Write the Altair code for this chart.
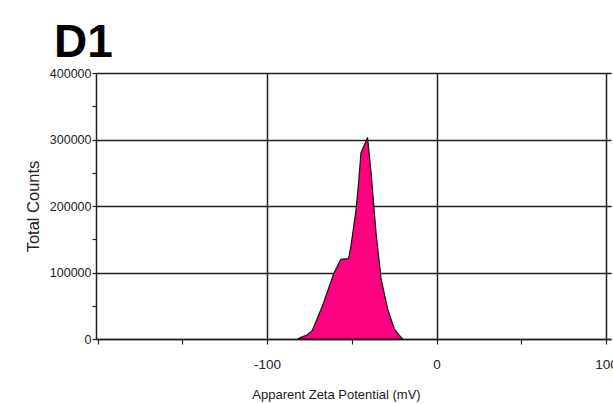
import altair as alt
import pandas as pd

# Zeta potential distribution (mV) and total counts
zeta_mv = [-82, -80, -76.5, -73.4, -67.3, -60.4, -56.4, -51.9, -50.5, -47.5,
           -46.0, -44.6, -42.5, -40.7, -38.6, -35.7, -32.7, -28.8, -24.9,
           -20.9, -20]
total_counts = [0, 2500, 6000, 12400, 49900, 99900, 119800, 120900, 139800,
                194700, 234700, 279700, 292000, 303000, 249700, 159800, 89900,
                44900, 15000, 2500, 0]

df = pd.DataFrame({"zeta": zeta_mv, "counts": total_counts})

x_ticks = [-200, -150, -100, -50, 0, 50, 100]
y_ticks = [0, 50000, 100000, 150000, 200000, 250000, 300000, 350000, 400000]

major_x = "datum.value % 100 == 0 && datum.value > -200"
major_y = "datum.value % 100000 == 0"

chart = alt.Chart(df).mark_area(
    color="#FF0080", stroke="#111111", strokeWidth=1.2, interpolate="linear"
).encode(
    x=alt.X(
        "zeta:Q",
        scale=alt.Scale(domain=[-201, 103], nice=False, zero=False),
        axis=alt.Axis(
            values=x_ticks,
            title="Apparent Zeta Potential (mV)",
            titleFont="Liberation Sans", titleFontSize=13, titleFontWeight="normal",
            titleColor="#222222", titlePadding=18, titleX=240, titleAlign="center",
            labelFont="Liberation Sans", labelFontSize=13.5, labelColor="#222222",
            labelPadding=13,
            labelExpr="(datum.value % 100 == 0 && datum.value > -200) ? '' + datum.value : ''",
            grid=True, gridColor="#222222", gridWidth=1.5,
            gridOpacity={"condition": {"test": major_x, "value": 1}, "value": 0},
            domainColor="#222222", domainWidth=1.5,
            tickColor="#222222", tickSize=5, tickWidth=1.2,
        ),
    ),
    y=alt.Y(
        "counts:Q",
        scale=alt.Scale(domain=[0, 400000], nice=False),
        axis=alt.Axis(
            values=y_ticks,
            title="Total Counts",
            titleFont="Liberation Sans", titleFontSize=16.5, titleFontWeight="normal",
            titleColor="#222222", titlePadding=8,
            labelFont="Liberation Sans", labelFontSize=12.5, labelColor="#222222",
            labelPadding=1,
            labelExpr="datum.value % 100000 == 0 ? '' + datum.value : ''",
            grid=True, gridColor="#222222", gridWidth=1.5,
            gridOpacity={"condition": {"test": major_y, "value": 1}, "value": 0},
            domainColor="#222222", domainWidth=1.5,
            tickColor="#222222", tickSize=4, tickWidth=1.2,
        ),
    ),
).properties(
    width=515,
    height=266,
    title=alt.TitleParams(
        "D1", anchor="start", frame="group", dx=-42, dy=52, offset=16,
        baseline="alphabetic",
        font="Liberation Sans", fontSize=46,
        fontWeight="bold", color="#000000",
    ),
    padding={"left": 96, "top": 73, "right": 2, "bottom": 65},
    autosize="none",
).configure_view(stroke=None)

chart.save("out.html", embed_options={"renderer": "svg", "actions": False})
